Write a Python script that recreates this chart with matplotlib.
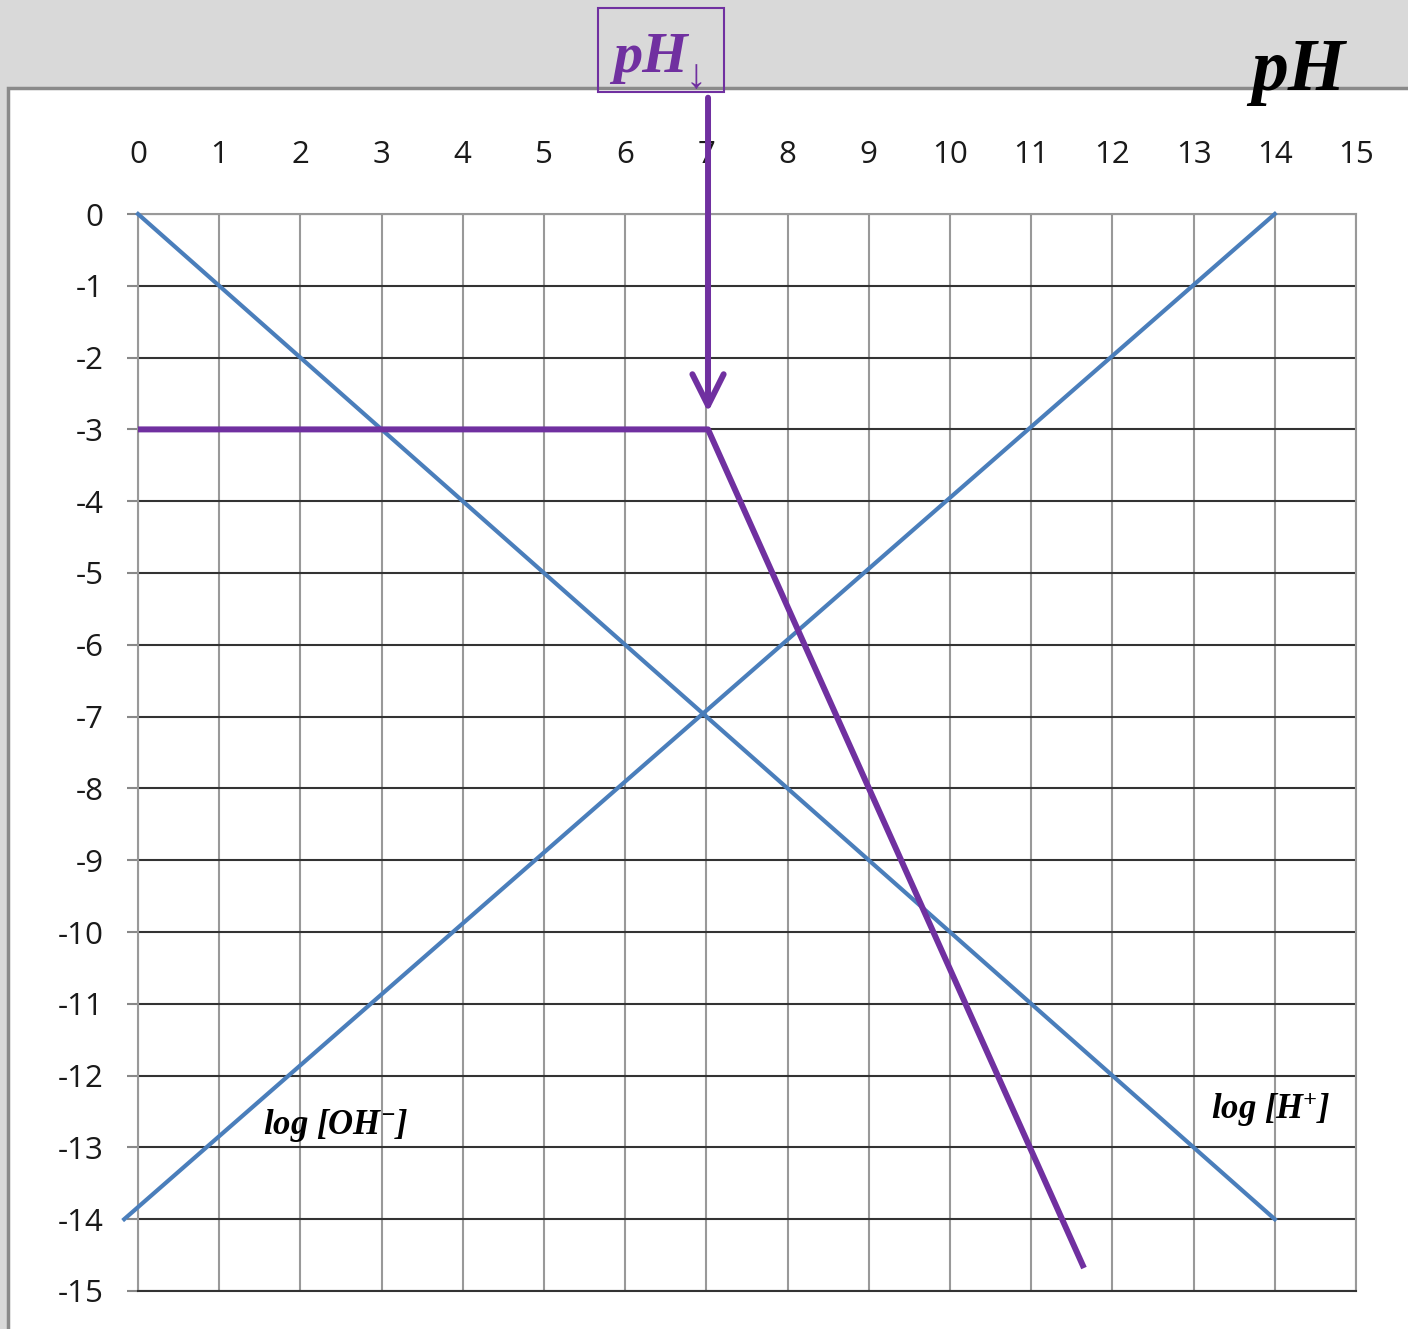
"""Acid/base log-concentration diagram: log[H+] and log[OH-] against pH."""

import matplotlib

matplotlib.use("Agg")

import matplotlib.pyplot as plt
from matplotlib.patches import Rectangle

# Data
ph_ticks = list(range(0, 16))
log_ticks = list(range(0, -16, -1))

log_h_x = [0, 14]
log_h_y = [0, -14]

log_oh_x = [-0.17, 14]
log_oh_y = [-14, 0]

# purple construction: plateau at -3 up to pH 7, then steep descent
weak_x = [0, 7.02, 11.65]
weak_y = [-3, -3, -14.68]

arrow_x = 7.02
arrow_top = 1.62
arrow_tip = -2.76

BLUE = "#4a7ebb"
PURPLE = "#7030a0"
W, H = 1408, 1329

plt.rcParams["axes.unicode_minus"] = False
plt.rcParams["mathtext.fontset"] = "custom"
plt.rcParams["mathtext.rm"] = "Liberation Serif:bold:italic"
plt.rcParams["mathtext.it"] = "Liberation Serif:bold:italic"

fig = plt.figure(figsize=(W / 100, H / 100), dpi=100, facecolor="#d9d9d9")

# white sheet with grey border, like the spreadsheet chart area
fig.patches.append(Rectangle((8 / W, -0.01), 1.0, 1 - 88 / H + 0.01, transform=fig.transFigure,
                             facecolor="white", edgecolor="#8a8a8a", linewidth=2.5, zorder=-1))

ax = fig.add_axes([138 / W, 1 - 1291 / H, (1356 - 138) / W, (1291 - 214) / H])
ax.set_facecolor("white")
ax.set_xlim(0, 15)
ax.set_ylim(-15, 0)

ax.set_xticks(ph_ticks)
ax.set_xticklabels([str(t) for t in ph_ticks])
ax.set_yticks(log_ticks)
ax.set_yticklabels([str(t) for t in log_ticks])
ax.xaxis.tick_top()
ax.tick_params(axis="x", length=0, pad=32, labelsize=22.5, labelcolor="#1a1a1a")
ax.tick_params(axis="y", length=8, width=1.5, color="#888888", pad=17, labelsize=22.5,
               labelcolor="#1a1a1a")
for lab in ax.get_xticklabels() + ax.get_yticklabels():
    lab.set_fontfamily("Open Sans")

ax.xaxis.grid(True, color="#999999", linewidth=1.5)
ax.yaxis.grid(True, color="#333333", linewidth=1.5)
ax.set_axisbelow(True)
for side in ("top", "left", "right"):
    ax.spines[side].set_color("#999999")
    ax.spines[side].set_linewidth(1.5)
ax.spines["bottom"].set_color("#333333")
ax.spines["bottom"].set_linewidth(1.5)

ax.plot(log_h_x, log_h_y, color=BLUE, linewidth=3, clip_on=False, zorder=3)
ax.plot(log_oh_x, log_oh_y, color=BLUE, linewidth=3, clip_on=False, zorder=3)
ax.plot(weak_x, weak_y, color=PURPLE, linewidth=4.3, clip_on=False, zorder=4,
        solid_capstyle="butt")

ax.annotate("", xy=(arrow_x, arrow_tip), xytext=(arrow_x, arrow_top),
            arrowprops=dict(arrowstyle="->,head_length=0.9,head_width=0.45", color=PURPLE,
                            lw=4.3, shrinkA=0, shrinkB=0, mutation_scale=25),
            annotation_clip=False, zorder=5)

serif = dict(family="Liberation Serif", weight="bold", style="italic")
ax.text(2.43, -12.69, r"log [OH$^{-}$]", fontsize=25, ha="center", va="center", **serif)
ax.text(13.95, -12.48, r"log [H$^{+}$]", fontsize=25, ha="center", va="center", **serif)

# pH labels in the grey header
fig.patches.append(Rectangle((598 / W, 1 - 92 / H), 126 / W, 84 / H, transform=fig.transFigure,
                             facecolor="none", edgecolor=PURPLE, linewidth=1.5, zorder=5))
fig.text(650 / W, 1 - 72 / H, "pH", fontsize=42, color=PURPLE, ha="center",
         va="baseline", **serif)
fig.text(696 / W, 1 - 88 / H, "\u2193", fontsize=30, color=PURPLE, ha="center",
         va="baseline", family=["Liberation Serif", "DejaVu Serif"])
fig.text(1298 / W, 1 - 90 / H, "pH", fontsize=53, color="black", ha="center",
         va="baseline", **serif)

fig.savefig("out.png", dpi=100, facecolor=fig.get_facecolor())
